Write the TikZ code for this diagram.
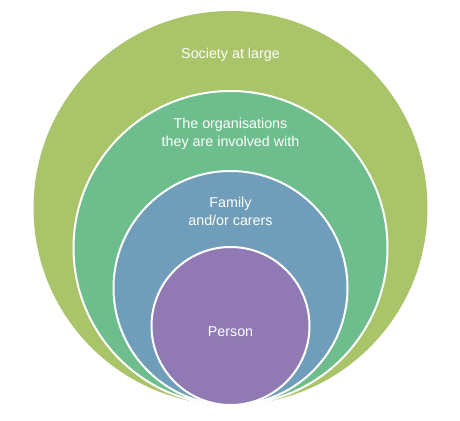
\documentclass[tikz,border=0pt]{standalone}
\usepackage{fontspec}
\setmainfont{Liberation Sans}
\usepackage{tikz}
\definecolor{societygreen}{RGB}{170,196,106}
\definecolor{orggreen}{RGB}{109,190,140}
\definecolor{familyblue}{RGB}{112,158,186}
\definecolor{personpurple}{RGB}{145,122,180}
\begin{document}
\begin{tikzpicture}
    [x=1pt,y=1pt,
     ring/.style={circle,inner sep=0pt},
     label/.style={text=white,align=center,font=\fontsize{14.3}{18}\selectfont}]

    \useasboundingbox (0,0) rectangle (460,420);

\node[ring,fill=societygreen,minimum size=394pt] (society) at (230.5,212) {};
\node[ring,draw=white,line width=2pt,fill=orggreen,minimum size=314pt] (orgs) at (230.5,172) {};
\node[ring,draw=white,line width=2pt,fill=familyblue,minimum size=234pt] (family) at (230.5,132) {};
\node[ring,draw=white,line width=2pt,fill=personpurple,minimum size=158pt] (person) at (230.5,94) {};

\node[label] (societytext) at (230.5,365) {Society at large};
\node[label] (orgstext) at (230.5,286) {The organisations\\they are involved with};
\node[label] (familytext) at (230.5,209) {Family\\and/or carers};
\node[label] (persontext) at (230.5,88) {Person};

  \end{tikzpicture}
\end{document}
